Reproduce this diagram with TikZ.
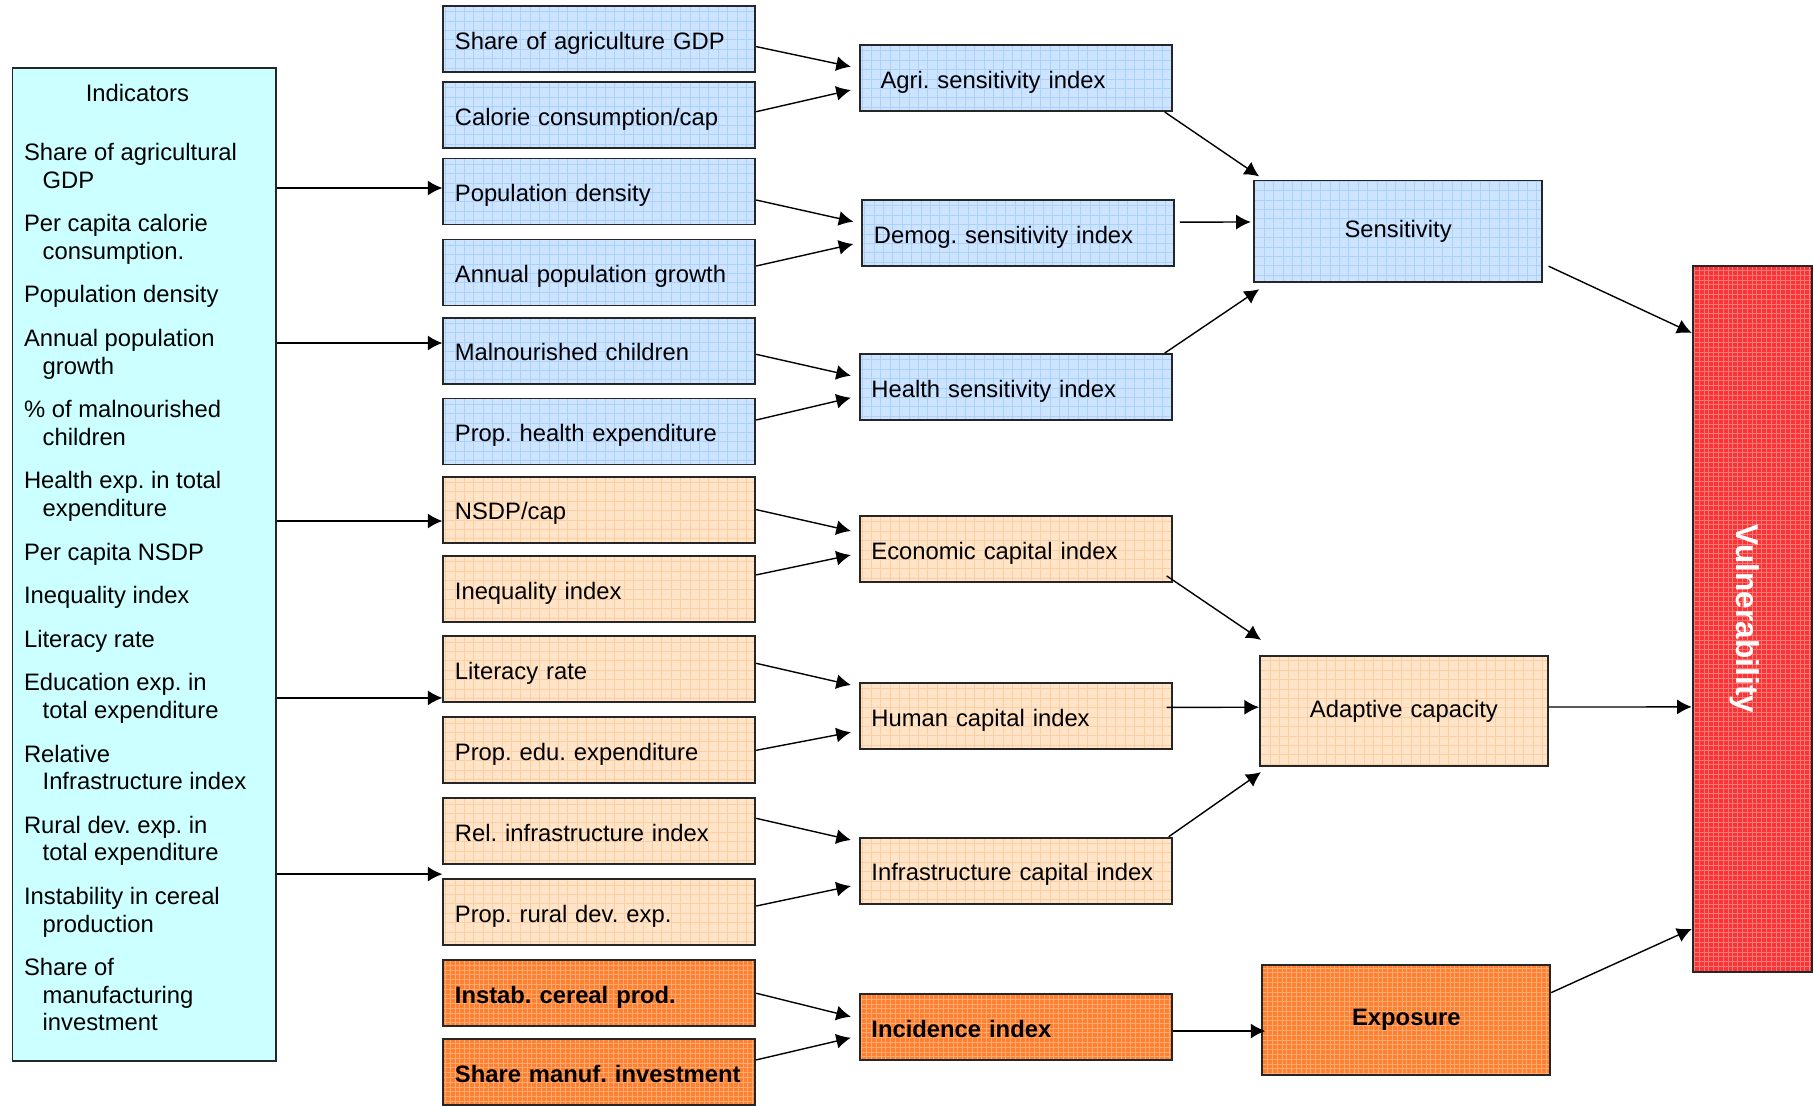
\documentclass[tikz,border=0pt]{standalone}
\usepackage{fontspec}
\setmainfont{Liberation Sans}
\usetikzlibrary{arrows.meta}

\definecolor{indcyan}{RGB}{204,255,255}
\definecolor{sensblue}{RGB}{204,228,255}
\definecolor{sensgrid}{RGB}{172,210,250}
\definecolor{adappeach}{RGB}{255,228,200}
\definecolor{adapgrid}{RGB}{252,206,164}
\definecolor{expoorange}{RGB}{255,128,48}
\definecolor{expogrid}{RGB}{255,170,110}
\definecolor{vulred}{RGB}{250,52,52}
\definecolor{vulgrid}{RGB}{255,120,120}

\newcommand{\indline}[1]{\par\hangindent=9.3pt\hangafter=1 #1}

\begin{document}
\frenchspacing
\begin{tikzpicture}[x=0.5pt, y=0.5pt,
  font=\fontsize{11.9}{13.8}\selectfont,
  box/.style={draw=black!85, line width=0.9pt, inner sep=0pt},
  gridfill/.style 2 args={fill=#1, path picture={\draw[step=4.7pt, line width=0.35pt, #2] (path picture bounding box.south west) grid (path picture bounding box.north east);}},
  item/.style={box, minimum width=156pt, minimum height=33pt, text width=144.4pt, text height=12.8pt, text depth=2.5pt, align=left},
  sensitem/.style={item, gridfill={sensblue}{sensgrid}},
  adapitem/.style={item, gridfill={adappeach}{adapgrid}},
  expoitem/.style={item, gridfill={expoorange}{expogrid, step=2.4pt}, font=\fontsize{11.9}{13.8}\selectfont\bfseries},
  comp/.style={box, minimum width=144pt, text width=134pt, align=center},
  arr/.style={-{Latex[length=7.3pt,width=7.5pt]}, line width=0.7pt}
]
\useasboundingbox (0,0) rectangle (1814,-1105);

% indicator list
\node[box, fill=indcyan, anchor=north west, inner xsep=5.75pt, inner ysep=8.3pt, minimum width=131.85pt] (ind) at (11.6,-67.1) {\parbox[t][479.7pt][t]{120.3pt}{\setlength{\parskip}{8pt}\centering\hspace*{-7pt}Indicators\par\vspace{7.5pt}\raggedright
  \indline{Share of agricultural\newline GDP}
  \indline{Per capita calorie\newline consumption.}
  \indline{Population density}
  \indline{Annual population\newline growth}
  \indline{\% of malnourished\newline children}
  \indline{Health exp. in total\newline expenditure}
  \indline{Per capita NSDP}
  \indline{Inequality index}
  \indline{Literacy rate}
  \indline{Education exp. in\newline total expenditure}
  \indline{Relative\newline Infrastructure index}
  \indline{Rural dev. exp. in\newline total expenditure}
  \indline{Instability in cereal\newline production}
  \indline{Share of\newline manufacturing\newline investment}\par}};

% variables
\foreach \nm/\yy/\st/\txt in {
  sag/38.8/sensitem/{Share of agriculture GDP},
  cal/115.1/sensitem/{Calorie consumption/cap},
  pd/191.5/sensitem/{Population density},
  apg/272.5/sensitem/{Annual population growth},
  mal/350.6/sensitem/{Malnourished children},
  phe/431.5/sensitem/{Prop. health expenditure},
  nsd/509.6/adapitem/{NSDP/cap},
  ineq/588.9/adapitem/{Inequality index},
  lit/669.3/adapitem/{Literacy rate},
  ped/750.3/adapitem/{Prop. edu. expenditure},
  rii/831.3/adapitem/{Rel. infrastructure index},
  prd/912.2/adapitem/{Prop. rural dev. exp.},
  icp/993.2/expoitem/{Instab. cereal prod.},
  smi/1071.9/expoitem/{Share manuf. investment}}
  \node[\st] (\nm) at (599.3,-\yy) {\txt};

% sub-indices
\node[sensitem] (agri) at (1015.8,-78.1) {\hspace*{4.6pt}Agri. sensitivity index};
\node[sensitem] (dem) at (1018.3,-233.1) {Demog. sensitivity index};
\node[sensitem] (hlt) at (1015.8,-387) {Health sensitivity index};
\node[adapitem] (eco) at (1015.8,-549) {Economic capital index};
\node[adapitem] (hum) at (1015.8,-716) {Human capital index};
\node[adapitem] (inf) at (1015.8,-870.6) {Infrastructure capital index};
\node[expoitem] (inc) at (1015.8,-1027.3) {Incidence index};

% components
\node[comp, gridfill={sensblue}{sensgrid}, minimum height=50.9pt] (sens) at (1398.1,-231.4) {Sensitivity};
\node[comp, gridfill={adappeach}{adapgrid}, minimum height=55pt] (adap) at (1403.9,-711) {Adaptive capacity};
\node[comp, gridfill={expoorange}{expogrid, step=2.4pt}, minimum height=55pt, font=\fontsize{11.9}{13.8}\selectfont\bfseries] (expo) at (1406.3,-1019.8) {Exposure};
\node[box, gridfill={vulred}{vulgrid, step=2.4pt}, minimum width=59.6pt, minimum height=352.9pt, text=white, font=\fontsize{15.8}{18}\selectfont\bfseries] (vul) at (1752.2,-618.9) {\rotatebox{-90}{\raisebox{-4pt}[\height][\depth]{Vulnerability}}};

% indicators to variables
\foreach \t/\a/\dy in {pd/west/1.75, mal/west/3.8, nsd/west/-5.7, lit/west/-14.3, prd/north west/2.1}{
  \coordinate (\t-in) at ([yshift=\dy pt]\t.\a);
  \draw[arr] (ind.east |- \t-in) -- (\t-in);
}

% variables to sub-indices
\foreach \s/\sy/\t/\ty in {sag/-3.9/agri/5.7, cal/1.7/agri/-5.95, pd/-4.25/dem/5.7, apg/3.25/dem/-5.45,
  mal/-1.85/hlt/5.65, phe/5.75/hlt/-5.35, nsd/0/eco/9, ineq/7/eco/-3, lit/3/hum/15.5, ped/0/hum/-8.1,
  rii/6.5/inf/15.3, prd/3.1/inf/-7.7, icp/0/inc/5.3, smi/6/inc/-5.2}
  \draw[arr] ([yshift=\sy pt]\s.east) -- ([xshift=-4pt,yshift=\ty pt]\t.west);

% sub-indices to components
\draw[arr] ([xshift=-4pt]agri.south east) -- ([xshift=3pt,yshift=1.6pt]sens.north west);
\draw[arr] ([xshift=2.3pt,yshift=5.5pt]dem.east) -- ([xshift=-1.2pt,yshift=4.7pt]sens.west);
\draw[arr] ([xshift=-4pt]hlt.north east) -- ([xshift=3pt,yshift=-3pt]sens.south west);
\draw[arr] ([xshift=-3pt,yshift=3.5pt]eco.south east) -- ([xshift=1pt,yshift=7.6pt]adap.north west);
\draw[arr] ([xshift=-3pt,yshift=4.3pt]hum.east) -- ([yshift=1.9pt]adap.west);
\draw[arr] ([xshift=-2pt]inf.north east) -- ([xshift=1pt,yshift=-2.6pt]adap.south west);
\draw[arr] ([yshift=-1.85pt]inc.east) -- ([xshift=2pt,yshift=-5.6pt]expo.west);

% components to vulnerability
\draw[arr] ([xshift=2.8pt,yshift=8.5pt]sens.south east) -- ([yshift=143pt]vul.west);
\draw[arr] ([yshift=2pt]adap.east) -- ([yshift=-44pt]vul.west);
\draw[arr] ([yshift=13.6pt]expo.east) -- ([yshift=-155pt]vul.west);
\end{tikzpicture}
\end{document}
